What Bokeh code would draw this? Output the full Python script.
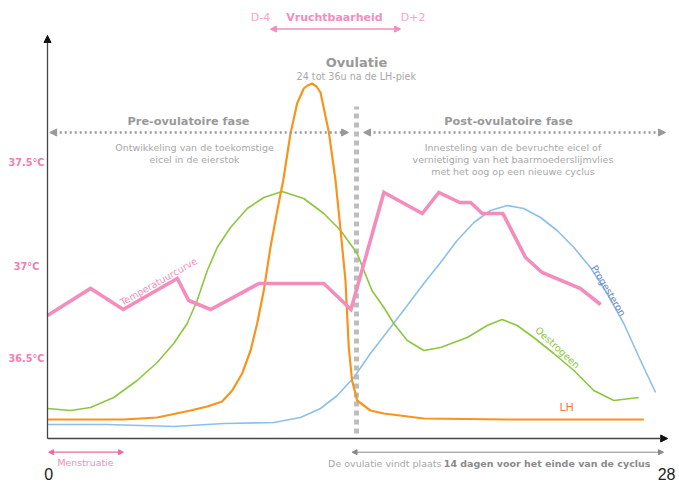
from bokeh.plotting import figure
from bokeh.models import Range1d, Label, Arrow, NormalHead
from bokeh.embed import file_html
from bokeh.resources import INLINE

# ---------------- data (day of cycle, relative level) ----------------
temp_days = [0, 1.95, 3.43, 5.88, 6.40, 7.39, 9.58, 12.52, 13.75, 15.24, 16.98,
             17.73, 18.68, 19.17, 19.70, 20.63, 21.66, 22.41, 24.15, 25.06]
temp_level = [123, 150, 129, 160, 138, 129, 155, 155, 129, 246, 225,
              246, 236, 236, 225, 225, 181, 166, 150, 134]

estr_days = [0, 1.04, 1.95, 3.00, 4.06, 4.97, 5.72, 6.33, 6.78, 7.24, 7.69, 8.29, 9.05,
             9.80, 10.63, 11.61, 12.52, 13.28, 14.03, 14.70, 15.24, 15.69, 16.30, 17.05,
             17.81, 19.02, 19.92, 20.60, 21.28, 22.03, 22.94, 23.85, 24.75, 25.66, 26.79]
estr_level = [30, 28, 31, 41, 58, 76, 95, 115, 138, 168, 191, 211, 230,
              241, 247, 240, 225, 208, 185, 148, 131, 115, 98, 88,
              91, 101, 113, 119, 113, 101, 85, 68, 48, 38, 41]

lh_days = [0, 3.46, 4.97, 6.48, 7.24, 7.91, 8.37, 8.82, 9.20, 9.50, 9.80, 10.10, 10.41,
           10.68, 11.01, 11.31, 11.61, 11.78, 11.99, 12.19, 12.37, 12.75, 13.05, 13.28,
           13.50, 13.65, 13.80, 14.03, 14.63, 15.24, 17.05, 20.83, 27.02]
lh_level = [19, 19, 21, 28, 32, 37, 48, 65, 88, 115, 148, 191, 228,
            258, 305, 335, 350, 353, 355, 352, 346, 306, 258, 208,
            158, 91, 58, 38, 28, 25, 20, 19, 19]

prog_days = [0, 2.70, 5.72, 7.99, 10.25, 11.46, 12.37, 13.13, 13.88, 14.63, 15.54, 16.30,
             17.05, 17.81, 18.56, 19.32, 20.07, 20.83, 21.58, 22.34, 23.09, 23.85, 24.60,
             25.36, 26.11, 26.87, 27.55]
prog_level = [14, 14, 12, 15, 16, 21, 30, 43, 61, 85, 111, 133,
              155, 176, 198, 216, 228, 233, 230, 221, 208, 191, 171,
              145, 115, 78, 46]

temp_tick_labels = ["37.5°C", "37°C", "36.5°C"]
temp_tick_levels = [276, 172, 80]
day_ticks = [0, 28]
ovulation_day = 14
fertile_window = [10.1, 16.0]
menstruation = [0.05, 3.44]

# ---------------- figure ----------------
PX_PER_DAY = 22.071
W, H = 679, 482
p = figure(width=W, height=H,
           x_range=Range1d(-47 / PX_PER_DAY, -47 / PX_PER_DAY + W / PX_PER_DAY),
           y_range=Range1d(-44, 438),
           output_backend="svg", toolbar_location=None,
           x_axis_location=None, y_axis_location=None,
           min_border=0, min_border_left=0, min_border_right=0,
           min_border_top=0, min_border_bottom=0)
p.grid.visible = False
p.outline_line_color = None
p.background_fill_color = "white"

FONT = "DejaVu Sans"
PINK = "#f48cbc"
PINK_TXT = "#f37db3"
GRAY = "#999999"
GRAY_L = "#a8a8a8"

# ovulation dashed line
p.segment(x0=[ovulation_day], y0=[5], x1=[ovulation_day], y1=[332],
          line_color="#bdbdbd", line_width=5, line_dash="5 4")

# curves
p.line(prog_days, prog_level, line_color="#8cc0ea", line_width=1.6)
p.line(estr_days, estr_level, line_color="#8dc63f", line_width=1.6)
p.line(lh_days, lh_level, line_color="#f7941d", line_width=2.2)
p.line(temp_days, temp_level, line_color=PINK, line_width=3.6, line_join="miter")

# axes with arrows
ax_col = "#444444"
p.add_layout(Arrow(end=NormalHead(size=7, fill_color="#111", line_color="#111"),
                   x_start=0, y_start=0, x_end=0, y_end=403,
                   line_color=ax_col, line_width=1.3))
p.add_layout(Arrow(end=NormalHead(size=7, fill_color="#111", line_color="#111"),
                   x_start=0, y_start=0, x_end=28.1, y_end=0,
                   line_color=ax_col, line_width=1.3))

# phase arrows (dotted)
for xs, xe in [(0.1, 13.64), (14.32, 28.0)]:
    p.add_layout(Arrow(start=NormalHead(size=7, fill_color=GRAY, line_color=GRAY),
                       end=NormalHead(size=7, fill_color=GRAY, line_color=GRAY),
                       x_start=xs, y_start=306, x_end=xe, y_end=306,
                       line_color=GRAY, line_width=2.5, line_dash="2 3"))

# fertile window arrow
p.add_layout(Arrow(start=NormalHead(size=6, fill_color=PINK, line_color=PINK),
                   end=NormalHead(size=6, fill_color=PINK, line_color=PINK),
                   x_start=fertile_window[0], y_start=409.4,
                   x_end=fertile_window[1], y_end=409.4,
                   line_color=PINK, line_width=1.5))

# menstruation arrow
MC = "#ee6a9e"
p.add_layout(Arrow(start=NormalHead(size=5, fill_color=MC, line_color=MC),
                   end=NormalHead(size=5, fill_color=MC, line_color=MC),
                   x_start=menstruation[0], y_start=-13.7,
                   x_end=menstruation[1], y_end=-13.7,
                   line_color=MC, line_width=1.2))

# bottom gray arrow
p.add_layout(Arrow(start=NormalHead(size=5, fill_color="#888", line_color="#888"),
                   end=NormalHead(size=5, fill_color="#888", line_color="#888"),
                   x_start=13.8, y_start=-13.7, x_end=27.91, y_end=-13.7,
                   line_color="#888", line_width=1.0))


def lab(x, y, text, size, color, bold=False, align="center", baseline="middle",
        angle=0.0, font=FONT):
    p.add_layout(Label(x=x, y=y, text=text, text_font=font,
                       text_font_size=f"{size}px", text_color=color,
                       text_font_style="bold" if bold else "normal",
                       text_align=align, text_baseline=baseline, angle=angle))


# top fertility labels
lab(9.65, 421, "D-4", 11, "#f7a3c9")
lab(13.0, 421, "Vruchtbaarheid", 11, PINK, bold=True)
lab(16.57, 421, "D+2", 11, "#f7a3c9")

# ovulation title
lab(14.0, 376, "Ovulatie", 13, GRAY, bold=True)
lab(13.99, 362, "24 tot 36u na de LH-piek", 9.6, GRAY_L)

# phase titles
lab(6.39, 317, "Pre-ovulatoire fase", 11.3, GRAY, bold=True)
lab(6.66, 291, "Ontwikkeling van de toekomstige", 9.5, GRAY_L)
lab(6.66, 279.5, "eicel in de eierstok", 9.5, GRAY_L)

lab(20.89, 317, "Post-ovulatoire fase", 11.3, GRAY, bold=True)
lab(21.09, 291, "Innesteling van de bevruchte eicel of", 9.5, GRAY_L)
lab(21.09, 279, "vernietiging van het baarmoederslijmvlies", 9.5, GRAY_L)
lab(21.09, 267, "met het oog op een nieuwe cyclus", 9.5, GRAY_L)

# temperature ticks
for t, lv in zip(temp_tick_labels, temp_tick_levels):
    lab(-0.95, lv, t, 9.7, PINK_TXT, bold=True)

# curve labels
lab(5.03, 157, "Temperatuurcurve", 9.5, PINK, angle=0.515)
lab(25.42, 148, "Progesteron", 9.6, "#6b88cc", angle=-1.03)
lab(23.11, 91, "Oestrogeen", 9.7, "#8dc63f", angle=-0.744)
lab(23.52, 31, "LH", 11, "#f07b3c")

# bottom texts
lab(1.72, -24, "Menstruatie", 9.4, PINK)
lab(17.85, -24.5, "De ovulatie vindt plaats", 9.5, GRAY_L, align="right")
lab(27.32, -24.5, "14 dagen voor het einde van de cyclus", 9.5, "#8a8a8a",
    bold=True, align="right")

# day ticks
for d in day_ticks:
    lab(d + 0.05, -35.5, str(d), 16, "#222222", align="center", baseline="middle",
        font="Liberation Sans")

open("out.html", "w").write(file_html(p, INLINE))
